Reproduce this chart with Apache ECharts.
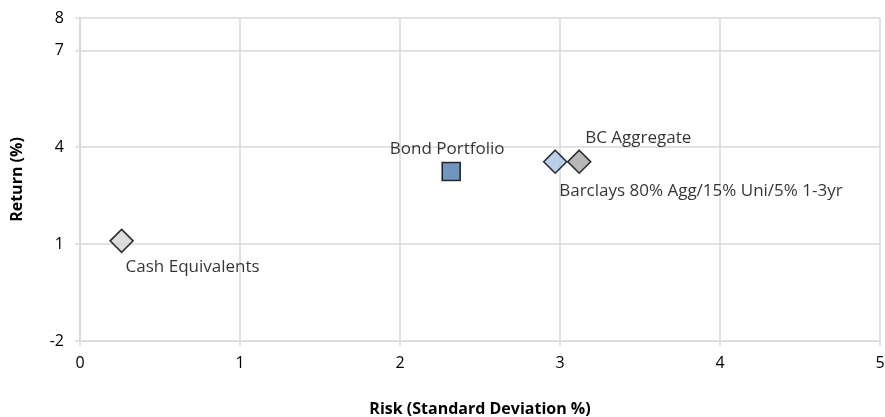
<!DOCTYPE html>
<html>
<head>
<meta charset="utf-8">
<script src="https://cdn.jsdelivr.net/npm/echarts@6/dist/echarts.min.js"></script>
<style>
  html, body { margin: 0; padding: 0; background: #fff; }
  #chart { width: 885px; height: 417px; }
</style>
</head>
<body>
<div id="chart"></div>
<script>
// Risk / return of the portfolio against its benchmarks
const names = ['Cash Equivalents', 'Bond Portfolio', 'Barclays 80% Agg/15% Uni/5% 1-3yr', 'BC Aggregate'];
const risk = [0.26, 2.32, 2.97, 3.12];
const returns = [1.1, 3.25, 3.55, 3.55];
const yTicks = [-2, 1, 4, 7, 8];

const markerColors = ['#d4d4d4', '#4e7bad', '#a9c3e3', '#a5a5a5'];
const markerShapes = ['diamond', 'rect', 'diamond', 'diamond'];
const markerSizes = [[23, 23], [18, 18], [23, 23], [23, 23]];
const labelPlacement = [
  { position: 'bottom', align: 'left', offset: [4, 1] },
  { position: 'top', align: 'center', offset: [-4, 0] },
  { position: 'bottom', align: 'left', offset: [4, 5] },
  { position: 'top', align: 'left', offset: [6, 1] }
];

const font = 'Open Sans, Noto Sans, sans-serif';
const gridColor = '#d9d9d9';
const textColor = '#000';

const data = names.map((n, i) => ({
  name: n,
  value: [risk[i], returns[i]],
  symbol: markerShapes[i],
  symbolSize: markerSizes[i],
  itemStyle: { color: markerColors[i], borderColor: '#000', borderWidth: 1.6 },
  label: Object.assign({
    show: true,
    formatter: '{b}',
    color: textColor,
    fontFamily: font,
    fontSize: 17,
    distance: 4
  }, labelPlacement[i])
}));

const chart = echarts.init(document.getElementById('chart'), null, { renderer: 'canvas' });
chart.setOption({
  animation: false,
  grid: { left: 80, right: 5, top: 18, bottom: 76, containLabel: false, outerBoundsMode: 'none' },
  xAxis: {
    type: 'value',
    min: 0, max: 5, interval: 1,
    name: 'Risk (Standard Deviation %)',
    nameLocation: 'middle',
    nameGap: 60,
    nameTextStyle: { fontFamily: font, fontWeight: 'bold', fontSize: 16, color: textColor },
    axisLine: { show: true, onZero: false, lineStyle: { color: gridColor, width: 1.5 } },
    axisTick: { show: true, length: 5, lineStyle: { color: gridColor, width: 1.5 } },
    axisLabel: { fontFamily: font, fontSize: 16, color: textColor, margin: 14 },
    splitLine: { show: true, lineStyle: { color: gridColor, width: 1.5 } }
  },
  yAxis: {
    type: 'value',
    min: -2, max: 8,
    name: 'Return (%)',
    nameLocation: 'middle',
    nameGap: 55,
    nameRotate: 90,
    nameTextStyle: { fontFamily: font, fontWeight: 'bold', fontSize: 16, color: textColor },
    axisLine: { show: true, onZero: false, lineStyle: { color: gridColor, width: 1.5 } },
    axisTick: { show: true, length: 5, customValues: yTicks, lineStyle: { color: gridColor, width: 1.5 } },
    axisLabel: { fontFamily: font, fontSize: 16, color: textColor, margin: 16, customValues: yTicks },
    splitLine: { show: true, lineStyle: { color: gridColor, width: 1.5 } }
  },
  series: [{
    type: 'scatter',
    data: data
  }]
});
</script>
</body>
</html>
